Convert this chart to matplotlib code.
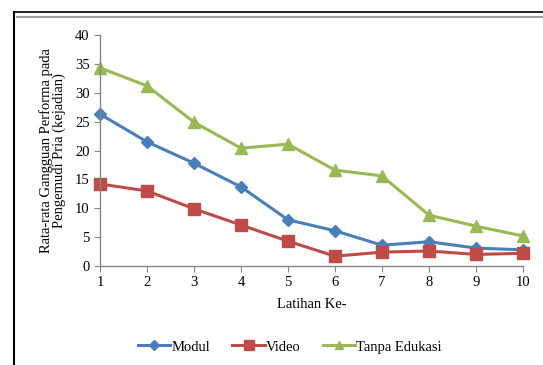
import matplotlib.pyplot as plt
from matplotlib.lines import Line2D

latihan = list(range(1, 11))
modul = [26.3, 21.5, 17.8, 13.7, 8.0, 6.1, 3.6, 4.2, 3.1, 2.8]
video = [14.2, 13.0, 9.9, 7.1, 4.3, 1.7, 2.4, 2.6, 2.0, 2.2]
tanpa = [34.3, 31.2, 24.9, 20.4, 21.1, 16.6, 15.6, 8.8, 6.9, 5.2]
series_names = ["Modul", "Video", "Tanpa Edukasi"]

BLUE = "#4a7ebb"
RED = "#be4b48"
GREEN = "#98b954"
AXIS = "#868686"
FONT = "Liberation Serif"

fig = plt.figure(figsize=(5.43, 3.65), dpi=100)
ax = fig.add_axes([100 / 543, 1 - 266 / 365, 423 / 543, 231 / 365])

ax.plot(latihan, modul, color=BLUE, lw=2.2, marker="D", ms=6, label=series_names[0])
ax.plot(latihan, video, color=RED, lw=2.2, marker="s", ms=8, label=series_names[1])
ax.plot(latihan, tanpa, color=GREEN, lw=2.2, marker="^", ms=8, label=series_names[2])

ax.set_xlim(1, 10)
ax.set_ylim(0, 40)
ax.set_xticks(latihan)
ax.set_yticks(range(0, 41, 5))
for s in ["top", "right"]:
    ax.spines[s].set_visible(False)
for s in ["left", "bottom"]:
    ax.spines[s].set_color(AXIS)
    ax.spines[s].set_linewidth(1.0)
ax.tick_params(colors=AXIS, length=4, direction="out", labelsize=10.5)
for lab in ax.get_xticklabels() + ax.get_yticklabels():
    lab.set_fontfamily(FONT)
    lab.set_color("black")
ax.set_clip_on(False)
for ln in ax.lines:
    ln.set_clip_on(False)

ax.set_xlabel("Latihan Ke-", family=FONT, fontsize=10.5, labelpad=6)
ax.set_ylabel("Rata-rata Gangguan Performa pada\nPengemudi Pria (kejadian)",
              family=FONT, fontsize=10.5, linespacing=1.0, labelpad=6)

handles = [
    Line2D([], [], color=BLUE, lw=2.2, marker="D", ms=5),
    Line2D([], [], color=RED, lw=2.2, marker="s", ms=7),
    Line2D([], [], color=GREEN, lw=2.2, marker="^", ms=6),
]
fig.legend(handles, series_names, loc="center", bbox_to_anchor=(290 / 543, 1 - 347 / 365),
           ncol=3, frameon=False, prop={"family": FONT, "size": 10.5},
           handlelength=2.2, handletextpad=0.1, columnspacing=1.5)

# page frame
fig.add_artist(Line2D([14 / 543, 14 / 543], [0, 1 - 12 / 365], color="black", lw=1.5))
fig.add_artist(Line2D([14 / 543, 1], [1 - 12 / 365, 1 - 12 / 365], color="black", lw=1.2))
fig.add_artist(Line2D([17 / 543, 1], [1 - 17 / 365, 1 - 17 / 365], color="#a0a0a0", lw=1.5))

fig.savefig("out.png", dpi=100, facecolor="white")
